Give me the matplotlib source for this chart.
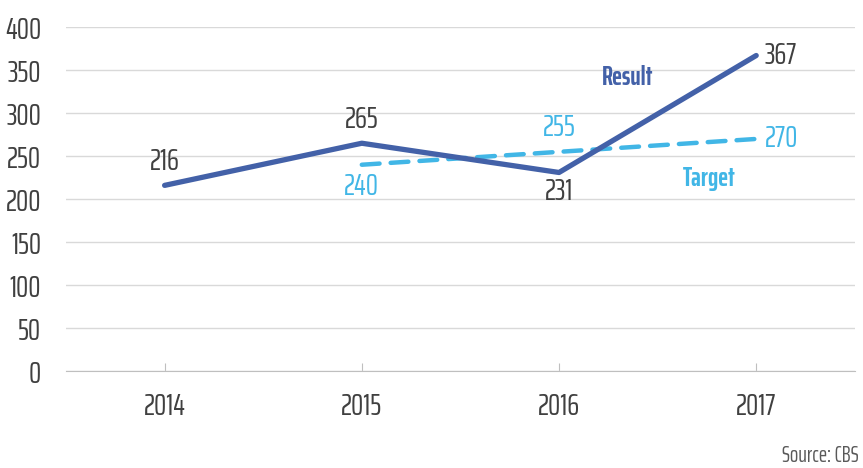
import matplotlib.pyplot as plt

years = ['2014', '2015', '2016', '2017']
result = [216, 265, 231, 367]
target_years = ['2015', '2016', '2017']
target = [240, 255, 270]
yticks = [0, 50, 100, 150, 200, 250, 300, 350, 400]

plt.rcParams['font.family'] = ['Saira ExtraCondensed', 'DejaVu Sans']

dark = '#4361a8'
light = '#41b6e6'
txt = '#404040'
fs = 22

fig = plt.figure(figsize=(8.63, 4.68), dpi=100)
ax = fig.add_axes([0.0765, 0.207, 0.914, 0.735])

x = list(range(len(years)))
tx = [years.index(y) for y in target_years]

ax.plot(x, result, color=dark, lw=3.8, solid_capstyle='round', zorder=3)
ax.plot(tx, target, color=light, lw=3.2, dashes=(4, 2.5), dash_capstyle='round', zorder=2)

# data labels
def label(xv, yv, dx, dy, ha, va, color):
    ax.annotate(str(yv), (xv, yv), xytext=(dx, dy), textcoords='offset points',
                ha=ha, va=va, fontsize=fs, color=color)

label(x[0], result[0], 0, 7, 'center', 'bottom', txt)
label(x[1], result[1], 0, 7, 'center', 'bottom', txt)
label(x[2], result[2], 0, -3, 'center', 'top', txt)
label(x[3], result[3], 6, 0, 'left', 'center', txt)
label(tx[0], target[0], 0, -5, 'center', 'top', light)
label(tx[1], target[1], 0, 7, 'center', 'bottom', light)
label(tx[2], target[2], 6, 0, 'left', 'center', light)

ax.text(2.35, 341, 'Result', color=dark, fontsize=19, fontweight='bold', ha='center', va='center')
ax.text(2.76, 224, 'Target', color=light, fontsize=19, fontweight='bold', ha='center', va='center')

ax.set_xlim(-0.5, len(years) - 0.5)
ax.set_ylim(0, 400)
ax.set_xticks(x)
ax.set_xticklabels(years)
ax.set_yticks(yticks)

ax.grid(axis='y', color='#d9d9d9', lw=1)
ax.set_axisbelow(True)
for s in ['top', 'right', 'left']:
    ax.spines[s].set_visible(False)
ax.spines['bottom'].set_color('#bfbfbf')

ax.tick_params(axis='x', direction='in', length=6, color='#bfbfbf', pad=15,
               labelsize=fs, labelcolor=txt)
ax.tick_params(axis='y', length=0, pad=18, labelsize=fs, labelcolor=txt)

fig.text(0.995, 0.005, 'Source: CBS', ha='right', va='bottom', fontsize=16, color='#595959')

fig.savefig('out.png', dpi=100)
